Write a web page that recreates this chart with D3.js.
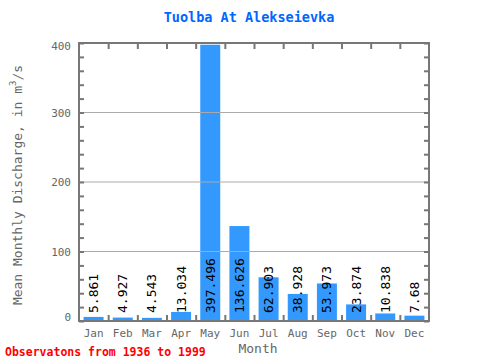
<!DOCTYPE html>
<html><head><meta charset="utf-8">
<script src="https://cdn.jsdelivr.net/npm/d3@7"></script>
<style>body{margin:0;background:#fff}svg{display:block}</style>
</head><body>
<svg id="c" width="480" height="360"></svg>
<script>
const months = ["Jan","Feb","Mar","Apr","May","Jun","Jul","Aug","Sep","Oct","Nov","Dec"];
const discharge = [5.861,4.927,4.543,13.034,397.496,136.626,62.903,38.928,53.973,23.874,10.838,7.68];
const labels = ["5.861","4.927","4.543","13.034","397.496","136.626","62.903","38.928","53.973","23.874","10.838","7.68"];
const yTicks = [0,100,200,300,400];

const svg = d3.select("#c");
const L=79, R=429, T=43, B=321;
const font = "'DejaVu Sans Mono', 'Liberation Mono', monospace";
const slot = d3.scaleBand().domain(months).range([L,R]);
const y = d3.scaleLinear().domain([0,400]).range([B,T]);

svg.append("text").attr("x",249).attr("y",22).attr("text-anchor","middle")
  .attr("font-family",font).attr("font-size",13.5).attr("font-weight","bold")
  .attr("fill","#0066ff").text("Tuolba At Alekseievka");

// bars
svg.append("g").selectAll("rect").data(discharge).join("rect")
  .attr("x",(d,i)=>slot(months[i])+slot.bandwidth()/2-10).attr("width",20)
  .attr("y",d=>y(Math.min(d,400))).attr("height",d=>B-y(Math.min(d,400)))
  .attr("fill","#3399ff");

// gridlines
svg.append("g").selectAll("line").data(yTicks.filter(t=>t>0&&t<400)).join("line")
  .attr("x1",L).attr("x2",R).attr("y1",d=>y(d)).attr("y2",d=>y(d))
  .attr("stroke","#aaaaaa").attr("stroke-width",1);

// bar labels
svg.append("g").selectAll("text").data(labels).join("text")
  .attr("transform",(d,i)=>`translate(${slot(months[i])+slot.bandwidth()/2+4.5},${B-8}) rotate(-90)`)
  .attr("font-family",font).attr("font-size",13).attr("fill","#000")
  .text(d=>d);

// axes
const gray="#777777";
const minor = d3.range(0,401,20);
const axL = d3.axisLeft(y).tickValues(minor).tickSize(-5).tickFormat("");
const axR = d3.axisRight(y).tickValues(minor).tickSize(-5).tickFormat("");
const bounds = d3.range(1,12).map(i=>L+i*slot.bandwidth());
const xs = d3.scaleLinear().domain([L,R]).range([L,R]);
const axB = d3.axisBottom(xs).tickValues(bounds).tickSize(-6).tickFormat("");
const axT = d3.axisTop(xs).tickValues(bounds).tickSize(-6).tickFormat("");
function style(g){g.select(".domain").remove();g.selectAll("line").attr("stroke",gray).attr("stroke-width",2);}
svg.append("g").attr("transform",`translate(${L},0)`).call(axL).call(style);
svg.append("g").attr("transform",`translate(${R},0)`).call(axR).call(style);
svg.append("g").attr("transform",`translate(0,${B})`).call(axB).call(style);
svg.append("g").attr("transform",`translate(0,${T})`).call(axT).call(style);
svg.append("rect").attr("x",L).attr("y",T).attr("width",R-L).attr("height",B-T)
  .attr("fill","none").attr("stroke",gray).attr("stroke-width",2);

// y tick labels
svg.append("g").selectAll("text").data(yTicks).join("text")
  .attr("x",71).attr("y",d=>y(d)+4+(d===0?-4:d===400?3:0)).attr("text-anchor","end")
  .attr("font-family",font).attr("font-size",11).attr("fill","#666")
  .text(d=>d);

// x tick labels
svg.append("g").selectAll("text").data(months).join("text")
  .attr("x",d=>slot(d)+slot.bandwidth()/2).attr("y",337).attr("text-anchor","middle")
  .attr("font-family",font).attr("font-size",11).attr("fill","#666")
  .text(d=>d);

svg.append("text").attr("x",258).attr("y",353).attr("text-anchor","middle")
  .attr("font-family",font).attr("font-size",13).attr("fill","#666").text("Month");

const yl = svg.append("text").attr("transform","translate(22,185) rotate(-90)")
  .attr("text-anchor","middle").attr("font-family",font).attr("font-size",13).attr("fill","#666");
yl.append("tspan").text("Mean Monthly Discharge, in  m");
yl.append("tspan").attr("dy",-6).attr("font-size",9).text("3");
yl.append("tspan").attr("dy",6).text("/s");

svg.append("text").attr("x",5).attr("y",356)
  .attr("font-family",font).attr("font-size",11.5).attr("font-weight","bold")
  .attr("fill","#ff0000").text("Observatons from 1936 to 1999");
</script>
</body></html>
